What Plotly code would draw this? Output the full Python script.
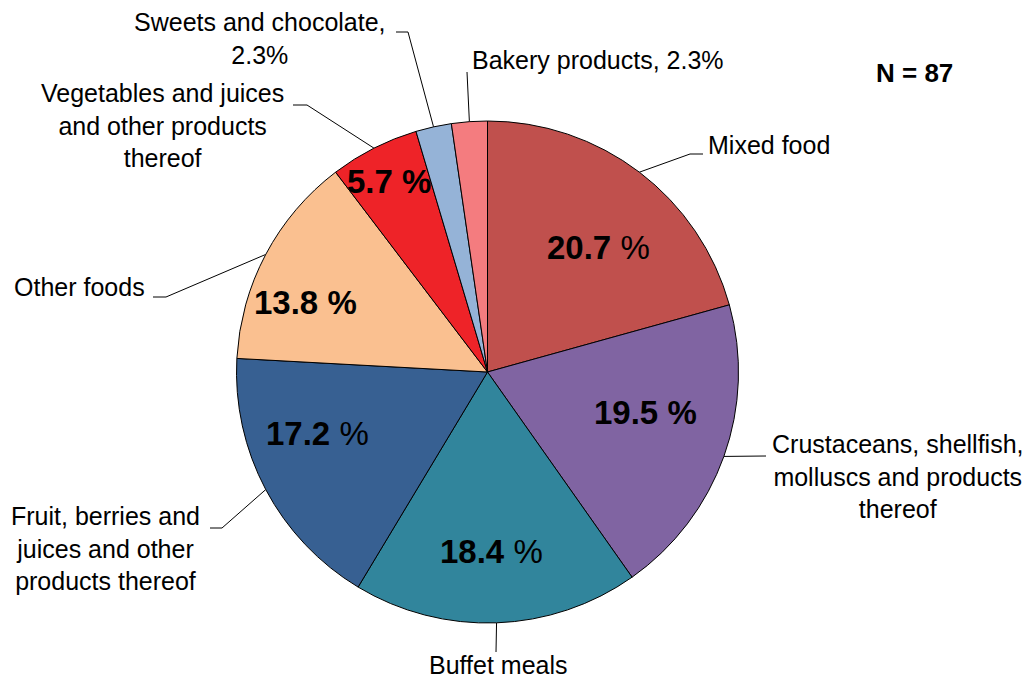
import math
import plotly.graph_objects as go

# counts of outbreaks per food category, N = 87
categories = ["Mixed food", "Crustaceans, shellfish, molluscs and products thereof",
              "Buffet meals", "Fruit, berries and juices and other products thereof",
              "Other foods", "Vegetables and juices and other products thereof",
              "Sweets and chocolate", "Bakery products"]
counts = [18, 17, 16, 15, 12, 5, 2, 2]
colors = ["#C0504D", "#8064A2", "#31859C", "#376092", "#FAC090", "#EE2328", "#95B3D7", "#F47C7F"]

# outside label texts
outer_text = ["Mixed food", "Crustaceans, shellfish,<br>molluscs and products<br>thereof",
              "Buffet meals", "Fruit, berries and<br>juices and other<br>products thereof",
              "Other foods", "Vegetables and juices<br>and other products<br>thereof",
              "Sweets and chocolate,<br>2.3%", "Bakery products, 2.3%"]
# which inner labels have a bold percent sign
bold_pct = [False, True, False, False, True, True, None, None]

W, H = 1030, 679
OFF = 8  # page body margin, figure is drawn 8px down/right
cx, cy, R = 487.5, 372, 251

total = sum(counts)
pct = [100 * c / total for c in counts]
mids = []
acc = 0
for c in counts:
    mids.append((acc + c / 2) / total * 360)
    acc += c

def pt(ang, r):
    a = math.radians(ang)
    return cx + r * math.sin(a), cy - r * math.cos(a)

fcx, fcy = cx - OFF, cy - OFF
fig = go.Figure()
fig.add_trace(go.Pie(
    values=counts, labels=categories, sort=False, direction="clockwise", rotation=0,
    marker=dict(colors=colors, line=dict(color="black", width=1)),
    textinfo="none", hoverinfo="label+percent", showlegend=False,
    domain=dict(x=[(fcx - R) / W, (fcx + R) / W], y=[(H - fcy - R) / H, (H - fcy + R) / H]),
))

FONT = "Liberation Sans, Arial"

# inner labels: angle nudge and radius
inner_pos = [(4.4, 167), (-5.2, 163), (0.8, 180), (8.2, 181), (-6.9, 195), (-0.4, 214)]
for i, (da, r) in enumerate(inner_pos):
    x, y = pt(mids[i] + da, r)
    num = "%.1f" % pct[i]
    txt = "<b>%s %%</b>" % num if bold_pct[i] else "<b>%s</b> %%" % num
    fig.add_annotation(x=x, y=y, text=txt, showarrow=False, xref="x", yref="y",
                       font=dict(size=33, color="black", family=FONT))

# leader lines: (bend points after edge), text position, anchor
leaders = [
    ([(690, 154), (703, 154)], (706, 145), "left"),
    ([(766, 456)], (898, 476), "center"),
    ([(496, 652)], (498, 665), "center"),
    ([(222, 528), (210, 528)], (105, 548), "center"),
    ([(166, 297), (153, 297)], (147, 287), "right"),
    ([(307, 105), (293, 105)], (162, 125), "center"),
    ([(408, 32), (396, 32)], (260, 38), "center"),
    ([(467, 72)], (470, 60), "left"),
]
for i, (bends, (tx, ty), anc) in enumerate(leaders):
    ex, ey = pt(mids[i], R)
    xs = [ex] + [b[0] for b in bends]
    ys = [ey] + [b[1] for b in bends]
    fig.add_trace(go.Scatter(x=xs, y=ys, mode="lines", line=dict(color="black", width=1),
                             hoverinfo="skip", showlegend=False))
    fig.add_annotation(x=tx, y=ty, text=outer_text[i], showarrow=False, xref="x", yref="y",
                       xanchor=anc, yanchor="middle", align="center",
                       font=dict(size=25, color="black", family=FONT))

fig.add_annotation(x=955, y=73, text="<b>N = 87</b>", showarrow=False, xref="x", yref="y",
                   xanchor="right", font=dict(size=26, color="black", family=FONT))

fig.update_layout(
    width=W, height=H, margin=dict(l=0, r=0, t=0, b=0),
    paper_bgcolor="white", plot_bgcolor="rgba(0,0,0,0)",
    xaxis=dict(range=[OFF, W + OFF], visible=False, fixedrange=True),
    yaxis=dict(range=[H + OFF, OFF], visible=False, fixedrange=True),
)
fig.write_html("out.html")
